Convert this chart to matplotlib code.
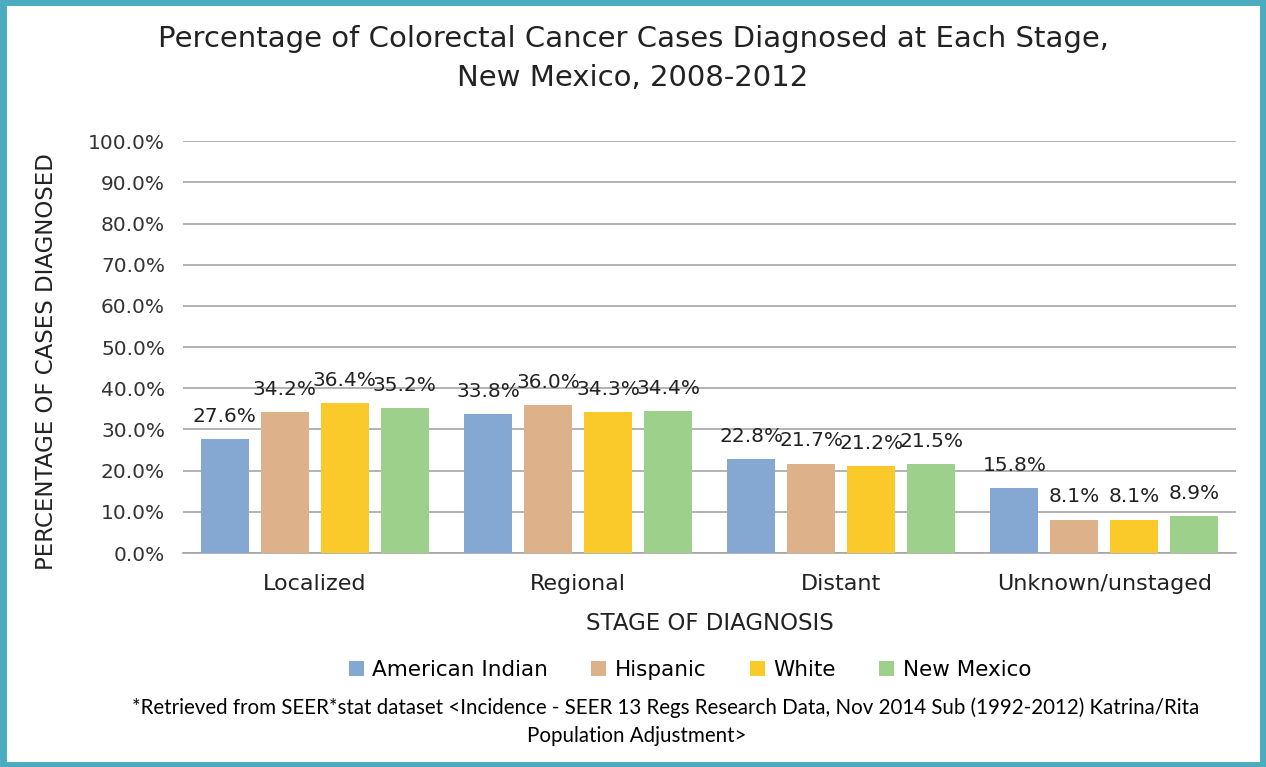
import numpy as np
import matplotlib.pyplot as plt
from matplotlib.patches import Rectangle

plt.rcParams['font.family'] = ['DejaVu Sans']

stages = ["Localized", "Regional", "Distant", "Unknown/unstaged"]
groups = ["American Indian", "Hispanic", "White", "New Mexico"]
american_indian = [27.6, 33.8, 22.8, 15.8]
hispanic = [34.2, 36.0, 21.7, 8.1]
white = [36.4, 34.3, 21.2, 8.1]
new_mexico = [35.2, 34.4, 21.5, 8.9]
series = [american_indian, hispanic, white, new_mexico]
colors = ["#84A8D1", "#DDB28A", "#F9CA2A", "#9DD08A"]

fig = plt.figure(figsize=(12.66, 7.67), dpi=100)
ax = fig.add_axes([0.1446, 0.279, 0.8317, 0.537])

x = np.arange(len(stages))
pitch = 0.228
width = 0.182
for i, (vals, col, name) in enumerate(zip(series, colors, groups)):
    pos = x + (i - 1.5) * pitch
    bars = ax.bar(pos, vals, width, color=col, label=name, zorder=3)
    for b, v in zip(bars, vals):
        ax.text(b.get_x() + b.get_width() / 2, v + 3.2, f"{v:.1f}%",
                ha="center", va="bottom", fontsize=14.5, color="#222222", zorder=4)

ax.set_xlim(-0.5, 3.5)
ax.set_ylim(0, 100)
ax.set_yticks(np.arange(0, 101, 10))
ax.set_yticklabels([f"{t:.1f}%" for t in range(0, 101, 10)], fontsize=14.5, color="#333333")
ax.set_xticks(x)
ax.set_xticklabels(stages, fontsize=16, color="#222222")
ax.tick_params(length=0, pad=15)
ax.tick_params(axis="y", pad=13)
ax.grid(axis="y", color="#A6A6A6", linewidth=1.2, zorder=0)
for s in ["top", "right", "left"]:
    ax.spines[s].set_visible(False)
ax.spines["bottom"].set_color("#A6A6A6")
ax.spines["bottom"].set_linewidth(1.2)

ax.set_xlabel("STAGE OF DIAGNOSIS", fontsize=16.5, labelpad=13, color="#222222")
ax.set_ylabel("PERCENTAGE OF CASES DIAGNOSED", fontsize=16.5, color="#222222")
ax.yaxis.set_label_coords(-0.119, 0.464)

fig.suptitle("Percentage of Colorectal Cancer Cases Diagnosed at Each Stage,\nNew Mexico, 2008-2012",
             fontsize=21, y=0.967, linespacing=1.5, color="#222222")

fig.legend(loc="center", bbox_to_anchor=(0.545, 0.127), ncol=4, frameon=False,
           fontsize=15.5, handlelength=0.7, handleheight=0.7, columnspacing=2.0,
           handletextpad=0.4)

fig.text(666 / 1266, 1 - 708 / 767,
         "*Retrieved from SEER*stat dataset <Incidence - SEER 13 Regs Research Data, Nov 2014 Sub (1992-2012) Katrina/Rita",
         ha="center", va="center", fontsize=14.8, family=["Lato", "DejaVu Sans"])
fig.text(637 / 1266, 1 - 736 / 767, "Population Adjustment>",
         ha="center", va="center", fontsize=14.8, family=["Lato", "DejaVu Sans"])

fig.patches.append(Rectangle((0.002, 0.003), 0.996, 0.994, transform=fig.transFigure,
                             fill=False, edgecolor="#4BACC0", linewidth=5))

fig.savefig("out.png", dpi=100)
